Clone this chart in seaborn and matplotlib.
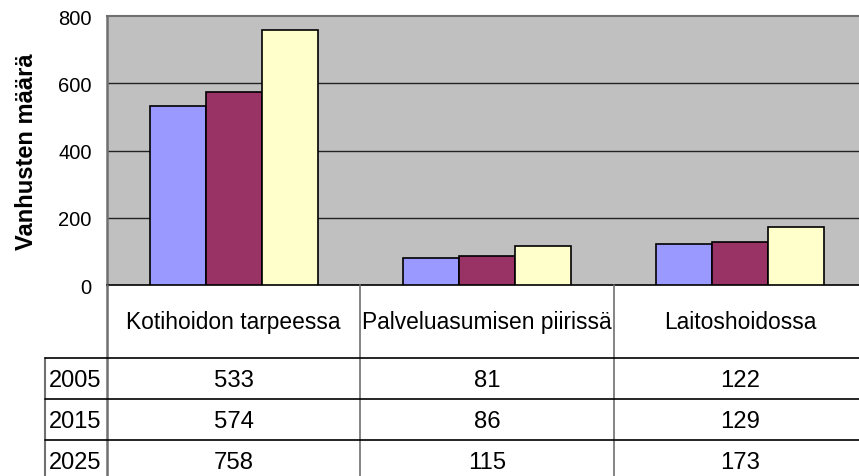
import matplotlib
matplotlib.use("Agg")
import matplotlib.pyplot as plt
import seaborn as sns
import pandas as pd

categories = ["Kotihoidon tarpeessa", "Palveluasumisen piirissä", "Laitoshoidossa"]
years = ["2005", "2015", "2025"]
values_2005 = [533, 81, 122]
values_2015 = [574, 86, 129]
values_2025 = [758, 115, 173]
y_ticks = [0, 200, 400, 600, 800]
y_label = "Vanhusten määrä"
colors = ["#9999FF", "#993366", "#FFFFCC"]

series = {"2005": values_2005, "2015": values_2015, "2025": values_2025}
df = pd.DataFrame([
    {"cat": c, "year": y, "val": v}
    for y in years for c, v in zip(categories, series[y])
])

sns.set_style("white")
plt.rcParams["font.family"] = ["Liberation Sans", "DejaVu Sans"]
plt.rcParams["text.color"] = "black"
plt.rcParams["ytick.labelcolor"] = "black"
plt.rcParams["ytick.color"] = "black"

W, H = 859, 477
fig = plt.figure(figsize=(W / 100, H / 100), dpi=100)

# plot area in pixels
x0, x1 = 107, 867
ytop, ybot = 17, 286
ax = fig.add_axes([x0 / W, (H - ybot) / H, (x1 - x0) / W, (ybot - ytop) / H])
ax.set_facecolor("#C0C0C0")

sns.barplot(data=df, x="cat", y="val", hue="year", order=categories,
            hue_order=years, palette=colors, width=0.663, dodge=True,
            edgecolor="black", linewidth=1.2, saturation=1, ax=ax, legend=False,
            zorder=3)
ax.set_xlim(-0.5, len(categories) - 0.5)
ax.set_ylim(0, 800)
ax.set_yticks(y_ticks)
ax.set_yticklabels([str(t) for t in y_ticks], fontsize=14.5, color="black")
ax.set_xticks([])
ax.set_xlabel("")
ax.set_ylabel("")
for t in y_ticks[1:-1]:
    ax.axhline(t, color="#222222", lw=1.0, zorder=1)
ax.tick_params(axis="y", direction="out", length=8, width=1, color="#333333", pad=3)
ax.spines["right"].set_visible(False)
ax.spines["top"].set_color("#707070")
ax.spines["top"].set_linewidth(1.5)
ax.spines["left"].set_color("#707070")
ax.spines["left"].set_linewidth(1.8)
ax.spines["bottom"].set_color("black")
ax.spines["bottom"].set_linewidth(1.2)

fig.text(27 / W, 1 - 152 / H, y_label, rotation=90, ha="center", va="center",
         fontsize=17, fontweight="bold", color="black")

# data table overlay in pixel coordinates
tab = fig.add_axes([0, 0, 1, 1], zorder=5)
tab.set_xlim(0, W)
tab.set_ylim(H, 0)
tab.axis("off")
tab.patch.set_alpha(0)

colw = (x1 - x0) / len(categories)
row_top = [286, 359, 400, 441]
row_bot = [359, 400, 441, 481]
tab.plot([x0, x0], [ybot, H], color="#707070", lw=1.8)
tab.plot([45, 45], [359, H], color="#707070", lw=1.5)
for i in range(1, len(categories)):
    xs = x0 + i * colw
    tab.plot([xs, xs], [ybot, H], color="#707070", lw=1.2)
for yl in row_top[1:]:
    tab.plot([45, W], [yl, yl], color="black", lw=1.2)

for i, c in enumerate(categories):
    cx = x0 + (i + 0.5) * colw
    tab.text(cx, (row_top[0] + row_bot[0]) / 2, c, ha="center", va="center",
             fontsize=16.4, color="black")
    for r, y in enumerate(years):
        cy = (row_top[r + 1] + row_bot[r + 1]) / 2 + 2
        tab.text(cx, cy, str(series[y][i]), ha="center", va="center",
                 fontsize=17.2, color="black")
for r, y in enumerate(years):
    cy = (row_top[r + 1] + row_bot[r + 1]) / 2 + 2
    tab.text(49, cy, y, ha="left", va="center", fontsize=17, color="black")

fig.savefig("out.png", dpi=100)
